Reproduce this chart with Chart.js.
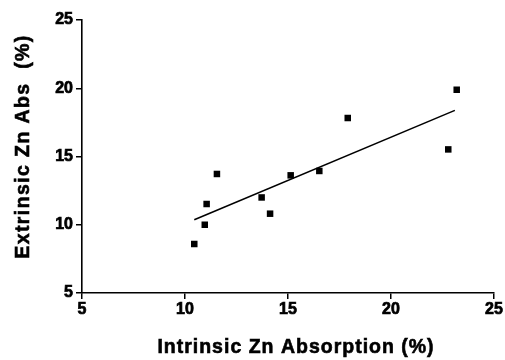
<!DOCTYPE html>
<html>
<head>
<meta charset="utf-8">
<script src="https://cdn.jsdelivr.net/npm/chart.js@4.4.1/dist/chart.umd.min.js"></script>
<style>
html,body{margin:0;padding:0;background:#fff;}
#wrap{width:505px;height:360px;}
</style>
</head>
<body>
<div id="wrap"><canvas id="c" width="505" height="360"></canvas></div>
<script>
const intrinsicAbs = [10.45, 10.96, 11.05, 11.55, 13.72, 14.13, 15.13, 16.52, 17.9, 22.78, 23.19];
const extrinsicAbs = [8.59, 10.0, 11.52, 13.72, 12.0, 10.81, 13.62, 13.94, 17.82, 15.52, 19.89];
const fitX = [10.45, 23.1];
const fitY = [10.37, 18.38];
const xTicks = [5, 10, 15, 20, 25];
const yTicks = [5, 10, 15, 20, 25];
const xTitle = 'Intrinsic Zn Absorption (%)';
const yTitle = 'Extrinsic Zn Abs  (%)';

const font = "'Liberation Sans', Arial, Helvetica, sans-serif";
const points = intrinsicAbs.map((x, i) => ({x: x, y: extrinsicAbs[i]}));
const fit = fitX.map((x, i) => ({x: x, y: fitY[i]}));

const axisTitles = {
  id: 'axisTitles',
  afterDraw(chart) {
    const ctx = chart.ctx;
    const a = chart.chartArea;
    ctx.save();
    ctx.fillStyle = '#000';
    ctx.strokeStyle = '#000';
    ctx.lineWidth = 0.6;
    ctx.font = "bold 19.5px " + font;
    ctx.textAlign = 'center';
    ctx.textBaseline = 'alphabetic';
    ctx.letterSpacing = '1px';
    const xc = (a.left + a.right) / 2 + 8;
    ctx.fillText(xTitle, xc, 353);
    ctx.strokeText(xTitle, xc, 353);
    ctx.letterSpacing = '1.4px';
    ctx.translate(28.5, (a.top + a.bottom) / 2 - 10);
    ctx.rotate(-Math.PI / 2);
    ctx.fillText(yTitle, 0, 0);
    ctx.strokeText(yTitle, 0, 0);
    ctx.restore();
  }
};

const tickFont = {family: font, size: 16, weight: 'bold'};

new Chart(document.getElementById('c'), {
  type: 'scatter',
  data: {
    datasets: [
      {
        data: points,
        pointStyle: 'rect',
        pointRadius: 4.6,
        pointHoverRadius: 4.6,
        backgroundColor: '#000',
        borderWidth: 0,
        showLine: false
      },
      {
        type: 'line',
        data: fit,
        borderColor: '#000',
        borderWidth: 1.6,
        pointRadius: 0,
        fill: false,
        tension: 0
      }
    ]
  },
  options: {
    responsive: false,
    animation: false,
    events: [],
    layout: {padding: {left: 0, top: 20, right: 11, bottom: 0}},
    plugins: {legend: {display: false}, tooltip: {enabled: false}},
    scales: {
      x: {
        type: 'linear',
        min: 5, max: 25,
        afterBuildTicks: s => { s.ticks = xTicks.map(v => ({value: v})); },
        afterFit: s => { s.height = 67; },
        border: {color: '#000', width: 1.6},
        grid: {drawOnChartArea: false, color: '#000', tickLength: 6, lineWidth: 1.5},
        ticks: {color: '#000', font: tickFont, padding: 1, maxRotation: 0, textStrokeColor: '#000', textStrokeWidth: 0.7},
        title: {display: false}
      },
      y: {
        type: 'linear',
        min: 5, max: 25,
        afterBuildTicks: s => { s.ticks = yTicks.map(v => ({value: v})); },
        afterFit: s => { s.width = 82; },
        border: {color: '#000', width: 1.6},
        grid: {drawOnChartArea: false, color: '#000', tickLength: 6, lineWidth: 1.5},
        ticks: {color: '#000', font: tickFont, padding: 3, textStrokeColor: '#000', textStrokeWidth: 0.7},
        title: {display: false}
      }
    }
  },
  plugins: [axisTitles]
});
</script>
</body>
</html>
